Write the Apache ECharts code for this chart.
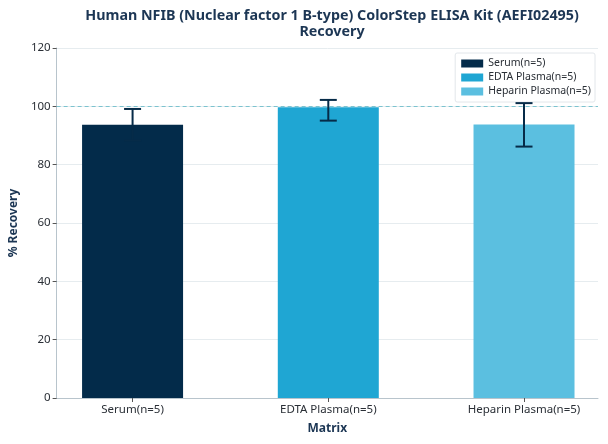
<!DOCTYPE html>
<html><head><meta charset="utf-8">
<script src="https://cdn.jsdelivr.net/npm/echarts@6/dist/echarts.min.js"></script>
<style>html,body{margin:0;padding:0;background:#fff}#c{width:608px;height:444px}</style>
</head><body><div id="c"></div>
<script>
const categories = ['Serum(n=5)', 'EDTA Plasma(n=5)', 'Heparin Plasma(n=5)'];
const recovery = [93.7, 99.7, 93.8];
const errLow = [88.3, 95.1, 86.2];
const errHigh = [99.1, 102.2, 101.1];
const colors = ['#032b4a', '#1fa6d3', '#5bbfe0'];
const yTicks = [0, 20, 40, 60, 80, 100, 120];

const chart = echarts.init(document.getElementById('c'), null, {renderer: 'canvas'});
const font = 'Noto Sans';
const series = categories.map((name, i) => ({
  name: name,
  type: 'bar',
  barWidth: 101,
  barGap: '-100%',
  itemStyle: {color: colors[i]},
  data: [[i, recovery[i]]],
  z: 2
}));
series.push({
  type: 'custom',
  name: 'err',
  z: 5,
  renderItem: function (params, api) {
    const x = api.value(0);
    const lo = api.coord([x, api.value(1)]);
    const hi = api.coord([x, api.value(2)]);
    const w = 8.5;
    const st = {stroke: '#062b48', lineWidth: 2};
    return {type: 'group', children: [
      {type: 'line', shape: {x1: lo[0], y1: lo[1], x2: hi[0], y2: hi[1]}, style: st},
      {type: 'line', shape: {x1: hi[0] - w, y1: hi[1], x2: hi[0] + w, y2: hi[1]}, style: st},
      {type: 'line', shape: {x1: lo[0] - w, y1: lo[1], x2: lo[0] + w, y2: lo[1]}, style: st}
    ]};
  },
  data: categories.map((c, i) => [i, errLow[i], errHigh[i]])
});
series.push({
  type: 'line', name: 'ref', data: [], silent: true,
  markLine: {
    silent: true, symbol: 'none', label: {show: false},
    lineStyle: {color: '#7cc3cf', type: [4, 3], width: 1},
    data: [{yAxis: 100}]
  }
});

chart.setOption({
  animation: false,
  textStyle: {fontFamily: font},
  title: {
    text: 'Human NFIB (Nuclear factor 1 B-type) ColorStep ELISA Kit (AEFI02495)\nRecovery',
    left: 327, top: 3, textAlign: 'center',
    textStyle: {fontSize: 14.3, fontWeight: 'bold', color: '#1c3654', lineHeight: 16, fontFamily: font}
  },
  legend: {
    data: categories,
    orient: 'vertical',
    right: 13, top: 53,
    itemWidth: 22, itemHeight: 8, itemGap: 3,
    padding: [5, 4, 5, 6],
    backgroundColor: '#fff',
    borderColor: '#e2e6ea', borderWidth: 1, borderRadius: 2,
    textStyle: {fontSize: 10.5, lineHeight: 10, color: '#2a2f36', fontFamily: font},
    icon: 'rect'
  },
  grid: {left: 53, right: 10, top: 48, bottom: 46},
  xAxis: {
    type: 'value', min: -0.388, max: 2.378,
    name: 'Matrix', nameLocation: 'middle', nameGap: 25,
    nameTextStyle: {fontSize: 12, fontWeight: 'bold', color: '#1c3654', fontFamily: font},
    axisLine: {show: true, onZero: false, lineStyle: {color: '#b8c4cc'}},
    axisTick: {show: true, customValues: [0, 1, 2], length: 4, lineStyle: {color: '#555'}},
    axisLabel: {customValues: [0, 1, 2], formatter: v => categories[Math.round(v)] || '', fontSize: 11.5, color: '#2a2f36', margin: 6},
    splitLine: {show: false}
  },
  yAxis: {
    type: 'value', min: 0, max: 120, interval: 20,
    name: '% Recovery', nameLocation: 'middle', nameGap: 34,
    nameTextStyle: {fontSize: 12, fontWeight: 'bold', color: '#1c3654', fontFamily: font},
    axisLine: {show: true, onZero: false, lineStyle: {color: '#b8c4cc'}},
    axisTick: {show: true, length: 4, lineStyle: {color: '#555'}},
    axisLabel: {fontSize: 11.5, color: '#2a2f36', margin: 6, formatter: v => yTicks.includes(v) ? String(v) : ''},
    splitLine: {show: true, lineStyle: {color: '#e6ecef', width: 1}}
  },
  series: series
});
</script></body></html>
